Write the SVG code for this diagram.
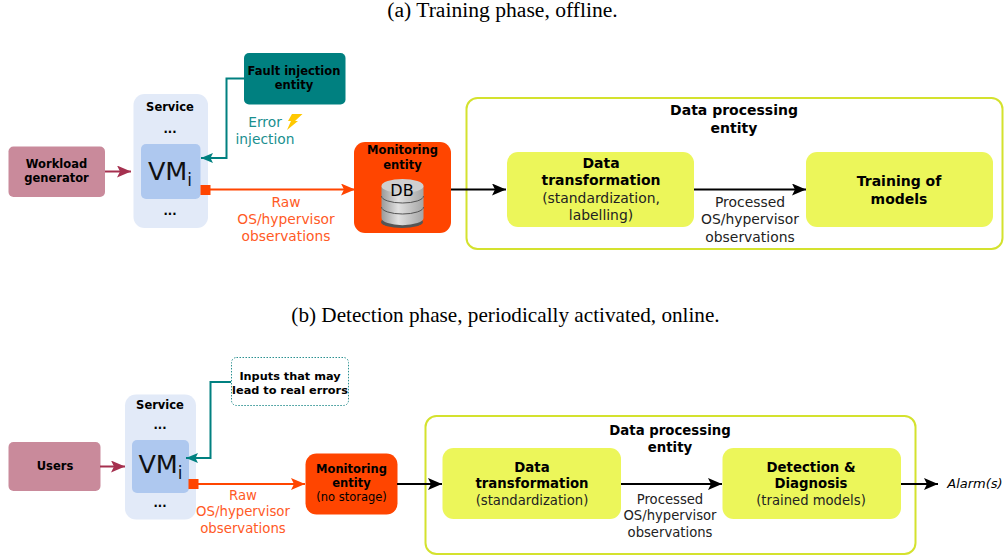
<svg xmlns="http://www.w3.org/2000/svg" width="1005" height="559" viewBox="0 0 1005 559">
<defs>
<style>
text{font-family:"DejaVu Sans",sans-serif;text-anchor:middle;fill:#000}
.cap{font-family:"Liberation Serif",serif}
.b{font-weight:bold}
.n{font-size:14px}
.n2{font-size:13.300px}
.o{fill:#ff5a26;font-size:13.800px}
.o2{fill:#ff5a26;font-size:13.300px}
.t{fill:#1a8f8f;font-size:13.800px}
.g{fill:#222;font-size:13.900px}
.g2{fill:#222;font-size:13.200px}
.s{font-size:11.500px;font-weight:bold}
.vm{font-size:25.500px;fill:#111}
.conn{fill:none;stroke-width:2}
</style>
<marker id="ab" markerUnits="userSpaceOnUse" markerWidth="16" markerHeight="14" refX="14" refY="6" orient="auto"><path d="M0 0L14 6L0 12L3 6Z" fill="#000"/></marker>
<marker id="ao" markerUnits="userSpaceOnUse" markerWidth="16" markerHeight="14" refX="14" refY="6" orient="auto"><path d="M0 0L14 6L0 12L3 6Z" fill="#ff4500"/></marker>
<marker id="ar" markerUnits="userSpaceOnUse" markerWidth="16" markerHeight="14" refX="14" refY="6" orient="auto"><path d="M0 0L14 6L0 12L3 6Z" fill="#a5304f"/></marker>
<marker id="at" markerUnits="userSpaceOnUse" markerWidth="14" markerHeight="12" refX="12" refY="5" orient="auto"><path d="M0 0L12 5L0 10L2.500 5Z" fill="#008080"/></marker>
<linearGradient id="cyl" x1="0" x2="1" y1="0" y2="0"><stop offset="0" stop-color="#9a9a9a"/><stop offset=".4" stop-color="#e0e0e0"/><stop offset="1" stop-color="#a5a5a5"/></linearGradient>
</defs>
<text class="cap" x="502.500" y="17" font-size="21.600">(a) Training phase, offline.</text>
<text class="cap" x="505.500" y="322" font-size="21.200">(b) Detection phase, periodically activated, online.</text>

<g id="workload"><rect x="8.500" y="146.500" width="96.500" height="50.500" rx="5" fill="#c98a9b"/><text class="s" x="56.500" y="168">Workload</text><text class="s" x="56.500" y="182">generator</text></g>
<g id="service-a"><rect x="133.500" y="94" width="74.500" height="134" rx="11" fill="#e2eaf8"/><text class="s" x="170" y="111">Service</text><text class="s" x="170" y="133">...</text><text class="s" x="170" y="215">...</text></g>
<g id="vm-a"><rect x="141" y="144" width="59.500" height="55" rx="5" fill="#aec8ef"/><text class="vm" x="170" y="180">VM<tspan font-size="17" dy="6">i</tspan></text></g>
<g id="fault"><rect x="244" y="53" width="101.500" height="51.500" rx="5" fill="#008080"/><text class="s" x="294" y="75">Fault injection</text><text class="s" x="294" y="89">entity</text></g>
<g id="error-label"><text class="t" x="265" y="126.500">Error</text><text class="t" x="265" y="144">injection</text><path d="M292 114H302.500L295 121H298L287 130L291 121H288Z" fill="#ffc800"/></g>
<text class="o" x="286" y="207">Raw</text><text class="o" x="286" y="224">OS/hypervisor</text><text class="o" x="286" y="241">observations</text>
<g id="monitor-a"><rect x="354" y="142" width="97" height="91" rx="11" fill="#ff4500"/><text class="s" x="402.500" y="154">Monitoring</text><text class="s" x="402.500" y="169">entity</text>
<ellipse cx="402" cy="222" rx="21" ry="6" fill="#555"/>
<path d="M381.500 186V218A20.500 7 0 0 0 423.500 218V186Z" fill="url(#cyl)"/><ellipse cx="402.500" cy="186" rx="21" ry="7" fill="#cfcfcf"/>
<path d="M381.500 196A21 7 0 0 0 423.500 196M381.500 207A21 7 0 0 0 423.500 207" fill="none" stroke="#555"/>
<text x="402" y="196" font-size="16" fill="#111">DB</text></g>
<g id="dp-a"><rect x="466.500" y="98" width="536" height="151" rx="11" fill="none" stroke="#d4e22e" stroke-width="2"/><text class="n b" x="734" y="115">Data processing</text><text class="n b" x="734" y="133">entity</text></g>
<g id="transform-a"><rect x="507" y="152" width="187" height="75" rx="11" fill="#ecf65a"/><text class="n b" x="601" y="168">Data</text><text class="n b" x="601" y="185">transformation</text><text class="g" x="601" y="203">(standardization,</text><text class="g" x="601" y="220">labelling)</text></g>
<g id="train"><rect x="806" y="152" width="187" height="75" rx="11" fill="#ecf65a"/><text class="n b" x="899" y="186">Training of</text><text class="n b" x="899" y="204">models</text></g>
<text class="g" x="750" y="207">Processed</text><text class="g" x="750" y="224">OS/hypervisor</text><text class="g" x="750" y="242">observations</text>

<g id="users"><rect x="8.500" y="442" width="92" height="49" rx="5" fill="#c98a9b"/><text class="s" x="55" y="470">Users</text></g>
<g id="service-b"><rect x="125" y="394.500" width="71" height="125" rx="11" fill="#e2eaf8"/><text class="s" x="160" y="409">Service</text><text class="s" x="160" y="429">...</text><text class="s" x="160" y="507">...</text></g>
<g id="vm-b"><rect x="132" y="440" width="57" height="53" rx="5" fill="#aec8ef"/><text class="vm" x="160.500" y="473">VM<tspan font-size="17" dy="6">i</tspan></text></g>
<g id="inputs"><rect x="231.500" y="357.500" width="117" height="48" rx="5" fill="#fff" stroke="#2a9090" stroke-dasharray="1.500 1.500"/><text class="s" x="290" y="380" style="font-size:11.300px">Inputs that may</text><text class="s" x="290" y="394" style="font-size:11.300px">lead to real errors</text></g>
<text class="o2" x="243" y="500">Raw</text><text class="o2" x="243" y="516">OS/hypervisor</text><text class="o2" x="243" y="533">observations</text>
<g id="monitor-b"><rect x="305.500" y="453.500" width="92" height="61" rx="11" fill="#ff4500"/><text class="s" x="351.500" y="473">Monitoring</text><text class="s" x="351.500" y="487">entity</text><text x="351.500" y="501" font-size="11.500" fill="#222">(no storage)</text></g>
<g id="dp-b"><rect x="425.500" y="416" width="490" height="138" rx="11" fill="none" stroke="#d4e22e" stroke-width="2"/><text class="n2 b" x="670" y="435">Data processing</text><text class="n2 b" x="670" y="452">entity</text></g>
<g id="transform-b"><rect x="442.500" y="448" width="178.500" height="71" rx="11" fill="#ecf65a"/><text class="n2 b" x="532" y="472">Data</text><text class="n2 b" x="532" y="488">transformation</text><text class="g2" x="532" y="505">(standardization)</text></g>
<g id="detect"><rect x="722.500" y="448" width="178.500" height="71" rx="11" fill="#ecf65a"/><text class="n2 b" x="811" y="472">Detection &amp;</text><text class="n2 b" x="811" y="488">Diagnosis</text><text class="g2" x="811" y="505">(trained models)</text></g>
<text class="g2" x="670" y="504">Processed</text><text class="g2" x="670" y="520">OS/hypervisor</text><text class="g2" x="670" y="537">observations</text>
<text x="975" y="488" font-size="13" font-style="italic" fill="#111">Alarm(s)</text>

<g id="conn-a" class="conn">
<path d="M105 171.500H131" stroke="#a5304f" marker-end="url(#ar)"/>
<path d="M244 78.500H226.500V158H201" stroke="#008080" marker-end="url(#at)"/>
<path d="M207 189.500H355" stroke="#ff4500" marker-end="url(#ao)"/>
<path d="M451 189.500H506" stroke="#000" marker-end="url(#ab)"/>
<path d="M694 189.500H806" stroke="#000" marker-end="url(#ab)"/>
</g>
<g id="conn-b" class="conn">
<path d="M100 466.500H125" stroke="#a5304f" marker-end="url(#ar)"/>
<path d="M231 382H210.500V458H186" stroke="#008080" marker-end="url(#at)"/>
<path d="M198 484H305" stroke="#ff4500" marker-end="url(#ao)"/>
<path d="M397 484H442" stroke="#000" marker-end="url(#ab)"/>
<path d="M621 484H722" stroke="#000" marker-end="url(#ab)"/>
<path d="M901 484H938" stroke="#000" marker-end="url(#ab)"/>
</g>
<rect x="200.500" y="185" width="10" height="10" fill="#ff4500"/>
<rect x="188.500" y="479" width="10" height="10" fill="#ff4500"/>
</svg>
